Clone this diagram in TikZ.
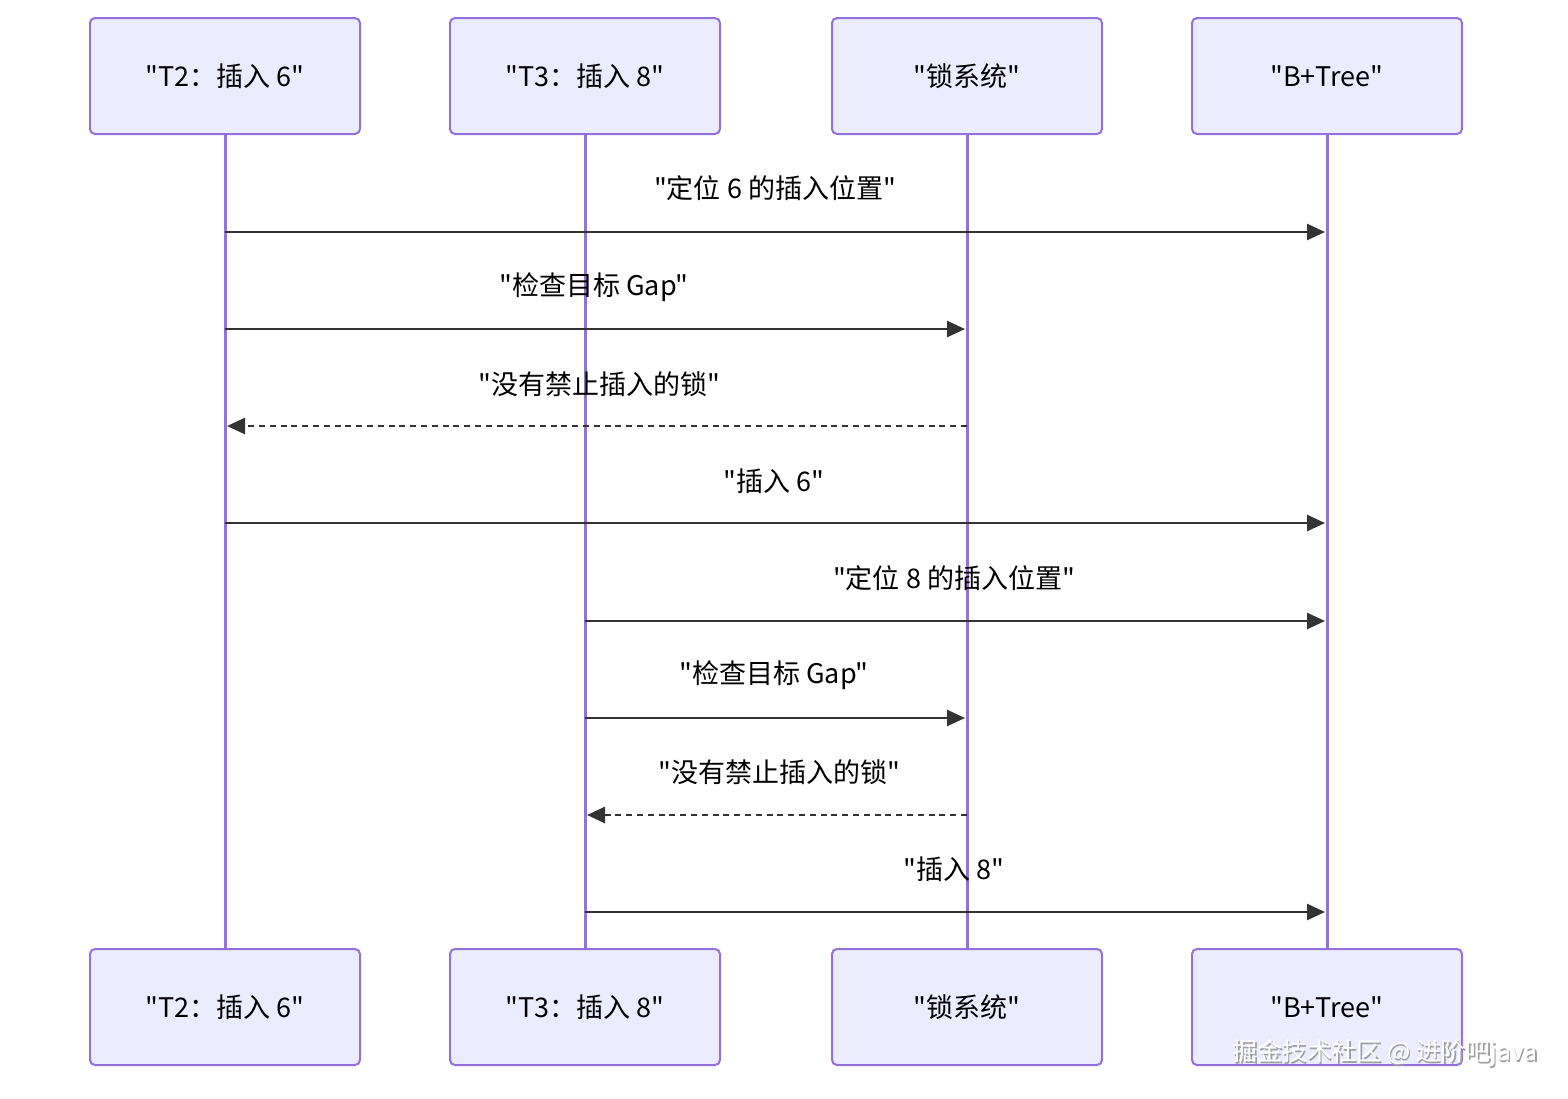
\documentclass[tikz,border=0pt]{standalone}
\usepackage{fontspec}
\newfontfamily\seqFont{Noto Sans CJK SC}
\usetikzlibrary{arrows.meta}
\definecolor{seqBorder}{HTML}{9370DB}
\definecolor{seqFill}{HTML}{ECECFF}
\definecolor{seqLine}{HTML}{333333}
\tikzset{
  actorBox/.style={draw=seqBorder, fill=seqFill, line width=1pt, rounded corners=2.5pt,
    minimum width=135pt, minimum height=58pt, inner sep=0pt, font=\seqFont\fontsize{13.5}{15}\selectfont},
  lifeLine/.style={draw=seqBorder, line width=1.5pt},
  msgSync/.style={draw=seqLine, line width=1.3pt, -{Triangle[length=9pt,width=8pt]}},
  msgReply/.style={msgSync, dash pattern=on 3pt off 2.4pt},
  msgText/.style={font=\seqFont\fontsize{13.5}{15}\selectfont, inner sep=0pt, text=black},
}
\begin{document}
\begin{tikzpicture}[x=0.5pt,y=-0.5pt]
\useasboundingbox[fill=white] (0,0) rectangle (1568,1098);
% lifelines
\draw[lifeLine] (225,134) -- (225,949);
\draw[lifeLine] (585,134) -- (585,949);
\draw[lifeLine] (967,134) -- (967,949);
\draw[lifeLine] (1327,134) -- (1327,949);
% actors, top
\node[actorBox] (t2Top) at (225,76) {\raisebox{-1pt}{"T2：插入 6"}};
\node[actorBox] (t3Top) at (585,76) {\raisebox{-1pt}{"T3：插入 8"}};
\node[actorBox] (lockTop) at (967,76) {\raisebox{-1pt}{"锁系统"}};
\node[actorBox] (treeTop) at (1327,76) {\raisebox{-1pt}{"B+Tree"}};
% actors, bottom
\node[actorBox] (t2Bot) at (225,1007) {\raisebox{-1pt}{"T2：插入 6"}};
\node[actorBox] (t3Bot) at (585,1007) {\raisebox{-1pt}{"T3：插入 8"}};
\node[actorBox] (lockBot) at (967,1007) {\raisebox{-1pt}{"锁系统"}};
\node[actorBox] (treeBot) at (1327,1007) {\raisebox{-1pt}{"B+Tree"}};
% message anchors
\coordinate (t2M1) at (225,232);   \coordinate (treeM1) at (1325,232);
\coordinate (t2M2) at (225,329);   \coordinate (lockM2) at (965,329);
\coordinate (lockM3) at (967,426); \coordinate (t2M3) at (227,426);
\coordinate (t2M4) at (225,523);   \coordinate (treeM4) at (1325,523);
\coordinate (t3M5) at (585,621);   \coordinate (treeM5) at (1325,621);
\coordinate (t3M6) at (585,718);   \coordinate (lockM6) at (965,718);
\coordinate (lockM7) at (967,815); \coordinate (t3M7) at (587,815);
\coordinate (t3M8) at (585,912);   \coordinate (treeM8) at (1325,912);
% messages
\draw[msgSync] (t2M1) -- (treeM1);
\node[msgText] (m1) at (775,188) {"定位 6 的插入位置"};
\draw[msgSync] (t2M2) -- (lockM2);
\node[msgText] (m2) at (594,287) {"检查目标 Gap"};
\draw[msgReply] (lockM3) -- (t2M3);
\node[msgText] (m3) at (599,384) {"没有禁止插入的锁"};
\draw[msgSync] (t2M4) -- (treeM4);
\node[msgText] (m4) at (774,481) {"插入 6"};
\draw[msgSync] (t3M5) -- (treeM5);
\node[msgText] (m5) at (954,578) {"定位 8 的插入位置"};
\draw[msgSync] (t3M6) -- (lockM6);
\node[msgText] (m6) at (774,675) {"检查目标 Gap"};
\draw[msgReply] (lockM7) -- (t3M7);
\node[msgText] (m7) at (779,772) {"没有禁止插入的锁"};
\draw[msgSync] (t3M8) -- (treeM8);
\node[msgText] (m8) at (954,869) {"插入 8"};
% watermark
\node[msgText, font=\seqFont\fontsize{12.4}{14}\selectfont, text=gray!75, anchor=east] (markShade) at (1539.5,1054.5) {掘金技术社区 @ 进阶吧java};
\node[msgText, font=\seqFont\fontsize{12.4}{14}\selectfont, text=white, anchor=east] (mark) at (1538,1053) {掘金技术社区 @ 进阶吧java};
\end{tikzpicture}
\end{document}
